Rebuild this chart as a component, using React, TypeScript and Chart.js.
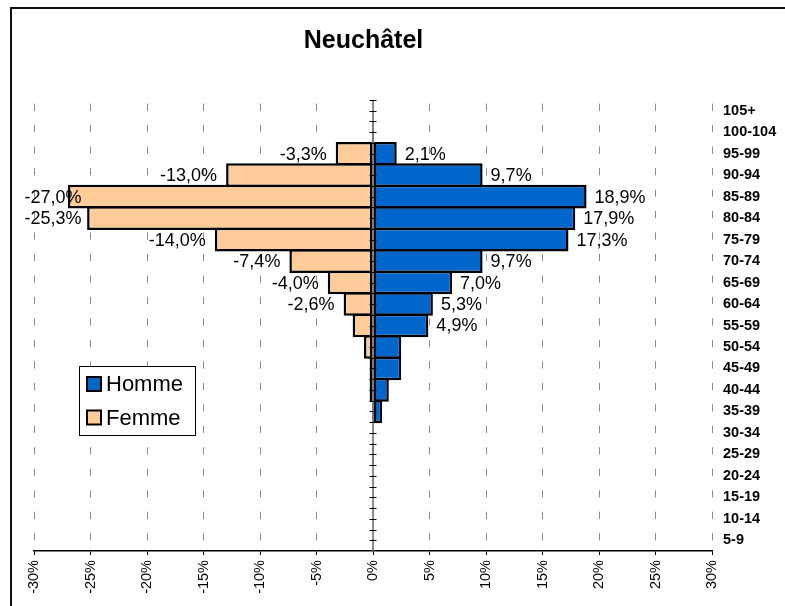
import React, { useEffect, useRef } from 'react';
import { Chart, registerables } from 'chart.js';

Chart.register(...registerables);

const FONT = "'Liberation Sans', Arial, sans-serif";

const chartTitle = 'Neuchâtel';
const ageGroups = ['105+', '100-104', '95-99', '90-94', '85-89', '80-84', '75-79', '70-74', '65-69', '60-64', '55-59', '50-54', '45-49', '40-44', '35-39', '30-34', '25-29', '20-24', '15-19', '10-14', '5-9'];
const hommeValues = [0, 0.1, 2.1, 9.7, 18.9, 17.9, 17.3, 9.7, 7.0, 5.3, 4.9, 2.5, 2.5, 1.4, 0.8, 0, 0.1, 0, 0, 0, 0];
const femmeValues = [0, -0.1, -3.3, -13.0, -27.0, -25.3, -14.0, -7.4, -4.0, -2.6, -1.8, -0.8, -0.3, -0.3, -0.1, 0, -0.1, 0, 0, 0, 0];
const hommeLabelShown = [false, false, true, true, true, true, true, true, true, true, true, false, false, false, false, false, false, false, false, false, false];
const femmeLabelShown = [false, false, true, true, true, true, true, true, true, true, false, false, false, false, false, false, false, false, false, false, false];
const xTickValues = [-30, -25, -20, -15, -10, -5, 0, 5, 10, 15, 20, 25, 30];
const seriesNames = ['Homme', 'Femme'];
const seriesColors = ['#0066CC', '#FFCC99'];

const fmt = (v: number) => v.toFixed(1).replace('.', ',') + '%';

const decorPlugin = {
  id: 'decor',
  beforeDraw(chart: any) {
    const { ctx, width, height } = chart;
    ctx.save();
    ctx.fillStyle = '#fff';
    ctx.fillRect(0, 0, width, height);
    ctx.strokeStyle = '#111';
    ctx.lineWidth = 2;
    ctx.beginPath();
    ctx.moveTo(11, height);
    ctx.lineTo(11, 8);
    ctx.lineTo(width, 8);
    ctx.stroke();
    ctx.fillStyle = '#000';
    ctx.font = `bold 25px ${FONT}`;
    ctx.textAlign = 'center';
    ctx.textBaseline = 'alphabetic';
    ctx.fillText(chartTitle, 363.5, 48);
    ctx.restore();
  },
  afterDatasetsDraw(chart: any) {
    const { ctx, chartArea } = chart;
    const xs = chart.scales.x;
    const x0 = xs.getPixelForValue(0);
    ctx.save();
    ctx.strokeStyle = '#666';
    ctx.lineWidth = 1.5;
    ctx.beginPath();
    ctx.moveTo(x0, chartArea.top);
    ctx.lineTo(x0, chartArea.bottom);
    ctx.stroke();
    ctx.strokeStyle = '#000';
    ctx.lineWidth = 1;
    const n = ageGroups.length * 2;
    const step = (chartArea.bottom - chartArea.top) / n;
    for (let k = 0; k < n; k++) {
      const y = Math.round(chartArea.top + k * step) + 0.5;
      ctx.beginPath();
      ctx.moveTo(x0 - 3.5, y);
      ctx.lineTo(x0 + 3.5, y);
      ctx.stroke();
    }
    ctx.fillStyle = '#000';
    ctx.font = `18px ${FONT}`;
    ctx.textBaseline = 'middle';
    const mH = chart.getDatasetMeta(0);
    mH.data.forEach((bar: any, i: number) => {
      if (!hommeLabelShown[i]) return;
      ctx.textAlign = 'left';
      ctx.fillText(fmt(hommeValues[i]), bar.x + 8, bar.y + 1);
    });
    const mF = chart.getDatasetMeta(1);
    mF.data.forEach((bar: any, i: number) => {
      if (!femmeLabelShown[i]) return;
      const t = fmt(femmeValues[i]);
      const w = ctx.measureText(t).width;
      let right = bar.x - 9;
      if (right - w < 24.5) right = 24.5 + w;
      ctx.textAlign = 'right';
      ctx.fillText(t, right, bar.y + 1);
    });
    ctx.restore();
  },
  afterDraw(chart: any) {
    const { ctx } = chart;
    ctx.save();
    ctx.fillStyle = '#fff';
    ctx.fillRect(79.5, 366.5, 116, 69);
    ctx.strokeStyle = '#000';
    ctx.lineWidth = 1;
    ctx.strokeRect(79.5, 366.5, 116, 69);
    const ys = [384, 417.5];
    chart.data.datasets.forEach((ds: any, i: number) => {
      const y = ys[i];
      ctx.fillStyle = ds.backgroundColor;
      ctx.fillRect(87, y - 7, 14, 14);
      ctx.strokeStyle = '#000';
      ctx.lineWidth = 2;
      ctx.strokeRect(87, y - 7, 14, 14);
      ctx.fillStyle = '#000';
      ctx.font = `22px ${FONT}`;
      ctx.textAlign = 'left';
      ctx.textBaseline = 'middle';
      ctx.fillText(ds.label, 106, y + 1);
    });
    ctx.restore();
  },
};

export default function App() {
  const ref = useRef<HTMLCanvasElement>(null);
  useEffect(() => {
    document.body.style.margin = '0';
    Chart.defaults.font.family = FONT;
    const chart = new Chart(ref.current as HTMLCanvasElement, {
      type: 'bar',
      data: {
        labels: ageGroups,
        datasets: [
          {
            label: seriesNames[0],
            data: hommeValues,
            backgroundColor: seriesColors[0],
            borderColor: '#000',
            borderWidth: 2.5,
            borderSkipped: false,
            barPercentage: 1.1,
            categoryPercentage: 1,
          },
          {
            label: seriesNames[1],
            data: femmeValues,
            backgroundColor: seriesColors[1],
            borderColor: '#000',
            borderWidth: 2.5,
            borderSkipped: false,
            barPercentage: 1.1,
            categoryPercentage: 1,
          },
        ],
      },
      options: {
        indexAxis: 'y',
        animation: false,
        responsive: false,
        layout: { padding: { top: 100, left: 34, right: 0, bottom: 0 } },
        plugins: {
          legend: { display: false },
          tooltip: { enabled: false },
          title: { display: false },
        },
        scales: {
          x: {
            type: 'linear',
            min: -30,
            max: 30,
            stacked: true,
            afterBuildTicks: (s: any) => {
              s.ticks = xTickValues.map((v) => ({ value: v }));
            },
            afterFit: (s: any) => {
              s.height = 55;
            },
            ticks: {
              callback: (v: any) => v + '%',
              minRotation: 90,
              maxRotation: 90,
              autoSkip: false,
              padding: 5,
              color: '#000',
              font: { size: 14.5 },
            },
            grid: {
              color: (c: any) => (c.tick && c.tick.value === 0 ? 'rgba(0,0,0,0)' : '#8c8c8c'),
              tickColor: '#000',
              tickLength: 4,
              lineWidth: 1,
              tickBorderDash: [],
            },
            border: { display: true, color: '#000', width: 1.5, dash: [7.3, 14.18], dashOffset: 17.9 },
          },
          y: {
            type: 'category',
            position: 'right',
            stacked: true,
            offset: true,
            afterFit: (s: any) => {
              s.width = 73;
            },
            grid: { display: false, drawTicks: false },
            border: { display: false },
            ticks: {
              autoSkip: false,
              padding: 11,
              color: '#000',
              font: { size: 14.5, weight: 'bold' },
            },
          },
        },
      },
      plugins: [decorPlugin],
    } as any);
    return () => chart.destroy();
  }, []);
  return (
    <div style={{ width: 785, height: 606 }}>
      <canvas ref={ref} width={785} height={606} style={{ display: 'block', width: 785, height: 606 }} />
    </div>
  );
}
